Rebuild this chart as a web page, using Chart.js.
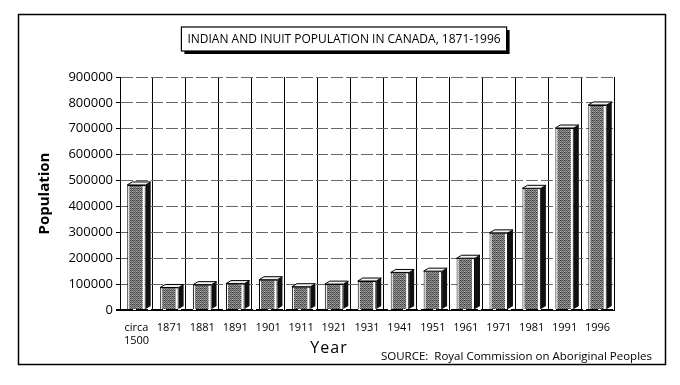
<!DOCTYPE html>
<html lang="en">

<head>
    <meta charset="UTF-8">
    <title>Indian and Inuit Population</title>
    <script src="https://cdn.jsdelivr.net/npm/chart.js@4.4.1/dist/chart.umd.min.js"></script>
    <style>
        body { margin: 0; background: #fff; }
    </style>
</head>

<body>
    <div style="width: 680px; height: 385px;">
        <canvas id="myChart"></canvas>
    </div>

    <script>
        // values
        const years = [['circa', '1500'], '1871', '1881', '1891', '1901', '1911', '1921', '1931',
            '1941', '1951', '1961', '1971', '1981', '1991', '1996'];
        const population = [483000, 87000, 98000, 102000, 117000, 90000, 100000, 112000,
            145000, 150000, 200000, 298000, 470000, 703000, 792000];
        const yTicks = [0, 100000, 200000, 300000, 400000, 500000, 600000, 700000, 800000, 900000];

        const titleText = 'INDIAN AND INUIT POPULATION IN CANADA, 1871-1996';
        const sourceText = 'SOURCE:  Royal Commission on Aboriginal Peoples';
        const fontFam = "'Open Sans', sans-serif";

        // speckled grey fill for the bar fronts (fixed dither, no randomness)
        function makePattern() {
            const bayer = [[0, 8, 2, 10], [12, 4, 14, 6], [3, 11, 1, 9], [15, 7, 13, 5]];
            const c = document.createElement('canvas');
            c.width = 4; c.height = 4;
            const g = c.getContext('2d');
            for (let i = 0; i < 4; i++) {
                for (let j = 0; j < 4; j++) {
                    const v = 55 + bayer[i][j] * 8;
                    g.fillStyle = `rgb(${v},${v},${v})`;
                    g.fillRect(j, i, 1, 1);
                }
            }
            return g.createPattern(c, 'repeat');
        }

        // frame, boxed title, axis title and source line
        const framePlugin = {
            id: 'frame',
            beforeDraw(chart) {
                const ctx = chart.ctx;
                ctx.save();
                ctx.fillStyle = '#fff';
                ctx.fillRect(0, 0, chart.width, chart.height);
                ctx.strokeStyle = '#000';
                ctx.lineWidth = 1.5;
                ctx.strokeRect(18.5, 14.5, 647, 350);
                ctx.restore();
            },
            afterDraw(chart) {
                const ctx = chart.ctx;
                ctx.save();
                ctx.font = '12px ' + fontFam;
                const w = ctx.measureText(titleText).width + 12;
                const cx = 344, cy = 39;
                ctx.fillStyle = '#000';
                ctx.fillRect(cx - w / 2 + 3, cy - 12 + 3, w, 24);
                ctx.fillStyle = '#fff';
                ctx.fillRect(cx - w / 2, cy - 12, w, 24);
                ctx.strokeStyle = '#000';
                ctx.lineWidth = 1.2;
                ctx.strokeRect(cx - w / 2, cy - 12, w, 24);
                ctx.fillStyle = '#000';
                ctx.textBaseline = 'middle';
                ctx.textAlign = 'center';
                ctx.fillText(titleText, cx, cy + 1);

                ctx.font = '16px ' + fontFam;
                ctx.letterSpacing = '1px';
                ctx.fillText('Year', 329, 348);
                ctx.letterSpacing = '0px';
                ctx.textAlign = 'right';
                ctx.font = '11.5px ' + fontFam;
                ctx.fillText(sourceText, 652, 357);
                ctx.restore();
            }
        };

        // fake 3D: top face, dark side and light edges on each bar
        const bar3d = {
            id: 'bar3d',
            afterDatasetsDraw(chart) {
                const ctx = chart.ctx;
                const dx = 5, dy = 3;
                ctx.save();
                chart.getDatasetMeta(0).data.forEach(bar => {
                    const { x, y, base, width } = bar.getProps(['x', 'y', 'base', 'width'], true);
                    const l = x - width / 2, r = x + width / 2;
                    ctx.fillStyle = '#fff';
                    ctx.fillRect(r - 3, y + 1, 2, base - y - 1);
                    ctx.fillRect(l + 1, y + 1, 1, base - y - 1);

                    ctx.beginPath();
                    ctx.moveTo(r, y);
                    ctx.lineTo(r + dx, y - dy);
                    ctx.lineTo(r + dx, base - dy);
                    ctx.lineTo(r, base);
                    ctx.closePath();
                    ctx.fillStyle = '#111';
                    ctx.fill();

                    ctx.beginPath();
                    ctx.moveTo(l, y);
                    ctx.lineTo(l + dx, y - dy);
                    ctx.lineTo(r + dx, y - dy);
                    ctx.lineTo(r, y);
                    ctx.closePath();
                    ctx.fillStyle = '#f2f2f2';
                    ctx.fill();
                    ctx.strokeStyle = '#000';
                    ctx.lineWidth = 1;
                    ctx.stroke();
                });
                ctx.restore();
            }
        };

        const ctx = document.getElementById('myChart').getContext('2d');
        const chart = new Chart(ctx, {
            type: 'bar',
            data: {
                labels: years,
                datasets: [{
                    label: 'Population',
                    data: population,
                    backgroundColor: makePattern(),
                    borderColor: '#000',
                    borderWidth: 1,
                    categoryPercentage: 1,
                    barPercentage: 0.56
                }]
            },
            options: {
                responsive: true,
                maintainAspectRatio: false,
                animation: false,
                layout: { padding: { left: 30, right: 66, top: 77, bottom: 0 } },
                plugins: {
                    legend: { display: false },
                    tooltip: { enabled: false }
                },
                scales: {
                    x: {
                        afterFit: s => { s.height = 75; },
                        grid: { offset: true, color: '#000', drawTicks: false },
                        border: { color: '#000' },
                        ticks: {
                            color: '#000', padding: 11, maxRotation: 0, autoSkip: false,
                            font: { family: fontFam, size: 11 }
                        }
                    },
                    y: {
                        min: 0,
                        max: 900000,
                        afterFit: s => { s.width = 90; },
                        afterBuildTicks: s => { s.ticks = yTicks.map(v => ({ value: v })); },
                        grid: {
                            color: c => c.tick && c.tick.value === 0 ? '#000' : '#666',
                            lineWidth: c => c.tick && c.tick.value === 0 ? 2 : 1,
                            tickLength: 4,
                            tickColor: '#000'
                        },
                        border: { color: '#000', dash: [12, 3] },
                        ticks: {
                            color: '#000', padding: 3,
                            font: { family: fontFam, size: 13 },
                            callback: v => String(v)
                        },
                        title: {
                            display: true,
                            text: 'Population',
                            color: '#000',
                            font: { family: fontFam, size: 15, weight: 'bold' },
                            padding: { top: 6, bottom: 0 }
                        }
                    }
                }
            },
            plugins: [framePlugin, bar3d]
        });
    </script>
</body>

</html>
